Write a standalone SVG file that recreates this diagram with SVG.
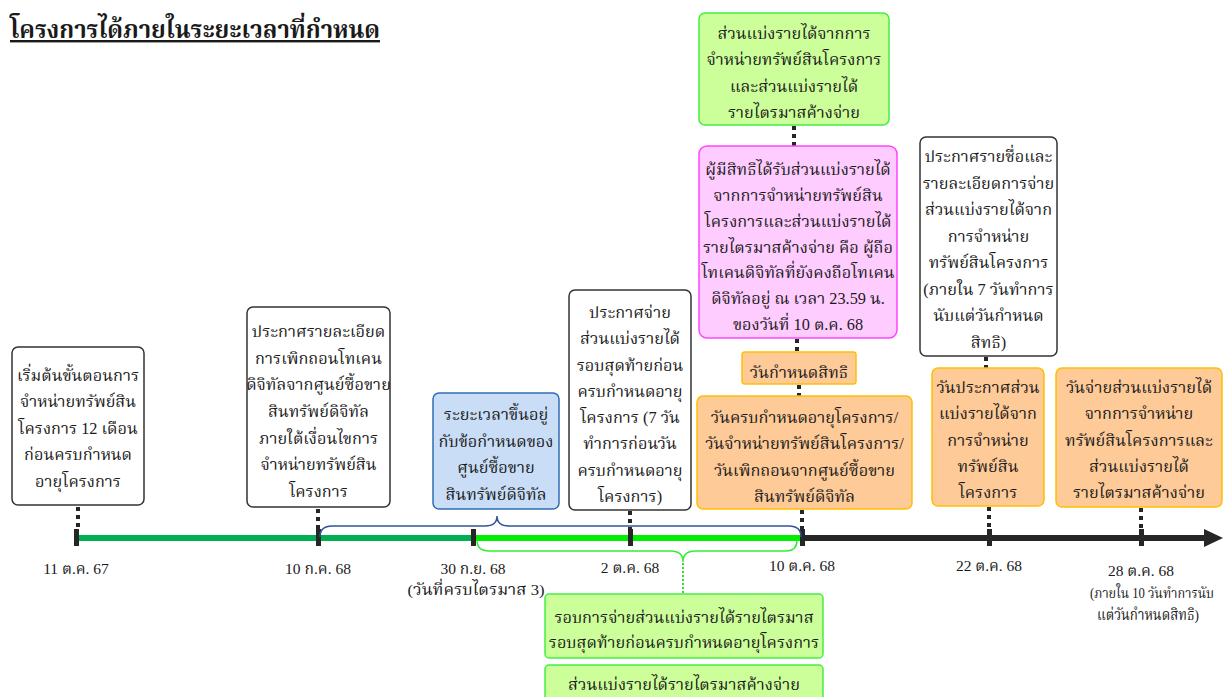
<svg xmlns="http://www.w3.org/2000/svg" width="1226" height="697" viewBox="0 0 1226 697">
<style>
text{font-family:"Liberation Serif","Noto Serif Thai","Noto Sans Thai","DejaVu Serif",serif;font-size:16.3px;fill:#1a1a1a;text-anchor:middle}
.lbl{font-size:15.5px}
.w{fill:#ffffff;stroke:#333333;stroke-width:1.5}
.b{fill:#c9ddf7;stroke:#2e6db4;stroke-width:1.5}
.g{fill:#ccff99;stroke:#44ee44;stroke-width:1.5}
.p{fill:#ffccff;stroke:#ff44ff;stroke-width:1.5}
.o{fill:#fdca98;stroke:#ffc000;stroke-width:1.5}
.dot{stroke:#262626;stroke-width:4;stroke-dasharray:4 4;fill:none}
.tick{fill:#262626}
</style>
<rect width="1226" height="697" fill="#ffffff"/>
<text x="10" y="38" style="font-size:24px;font-weight:bold;text-anchor:start;text-decoration:underline" textLength="370" lengthAdjust="spacingAndGlyphs">โครงการได้ภายในระยะเวลาที่กำหนด</text>

<g id="connectors">
<line x1="76" y1="538" x2="473" y2="538" stroke="#00b050" stroke-width="6"/>
<line x1="473" y1="538" x2="802" y2="538" stroke="#00ee00" stroke-width="6"/>
<line x1="802" y1="538" x2="1206" y2="538" stroke="#262626" stroke-width="6"/>
<polygon points="1204,529 1223,538 1204,547" fill="#262626"/>
<line class="dot" x1="78" y1="507" x2="78" y2="529"/>
<line class="dot" x1="318" y1="509" x2="318" y2="529"/>
<line class="dot" x1="630" y1="511" x2="630" y2="529"/>
<line class="dot" x1="794" y1="126" x2="794" y2="146"/>
<line class="dot" x1="797" y1="339" x2="797" y2="352"/>
<line class="dot" x1="799" y1="385" x2="799" y2="396"/>
<line class="dot" x1="802" y1="510" x2="802" y2="529"/>
<line class="dot" x1="986" y1="357" x2="986" y2="368"/>
<line class="dot" x1="989" y1="507" x2="989" y2="529"/>
<line class="dot" x1="1141" y1="508" x2="1141" y2="529"/>
<rect class="tick" x="74" y="529" width="5" height="17"/>
<rect class="tick" x="316" y="529" width="5" height="17"/>
<rect class="tick" x="471" y="529" width="5" height="17"/>
<rect class="tick" x="628" y="529" width="5" height="17"/>
<rect class="tick" x="800" y="529" width="5" height="17"/>
<rect class="tick" x="987" y="529" width="5" height="17"/>
<rect class="tick" x="1139" y="529" width="5" height="17"/>
<path d="M320,537 Q320,526 332,526 L485,526 Q497,526 497,516 Q497,526 509,526 L789,526 Q801,526 801,537" fill="none" stroke="#2f5597" stroke-width="1.5"/>
<path d="M477,540 Q477,551 489,551 L671,551 Q683,551 683,562 Q683,551 695,551 L786,551 Q797,551 797,540" fill="none" stroke="#33ee33" stroke-width="1.5"/>
<line x1="683" y1="563" x2="683" y2="594" stroke="#33dd33" stroke-width="2" stroke-dasharray="2 2"/>
</g>

<g id="labels">
<text class="lbl" x="76" y="574">11 ต.ค. 67</text>
<text class="lbl" x="318" y="574">10 ก.ค. 68</text>
<text class="lbl" x="473" y="574">30 ก.ย. 68</text>
<text class="lbl" x="476" y="595" textLength="137" lengthAdjust="spacingAndGlyphs">(วันที่ครบไตรมาส 3)</text>
<text class="lbl" x="630" y="573">2 ต.ค. 68</text>
<text class="lbl" x="802" y="571">10 ต.ค. 68</text>
<text class="lbl" x="989" y="571">22 ต.ค. 68</text>
<text class="lbl" x="1141" y="576">28 ต.ค. 68</text>
<text x="1152" y="598" style="font-size:14px" textLength="124" lengthAdjust="spacingAndGlyphs">(ภายใน 10 วันทำการนับ</text>
<text class="lbl" x="1148" y="620" textLength="102" lengthAdjust="spacingAndGlyphs">แต่วันกำหนดสิทธิ)</text>
</g>

<g id="n1">
<rect class="w" x="12" y="347" width="132" height="158" rx="6"/>
<text x="78" y="381">เริ่มต้นขั้นตอนการ</text>
<text x="78" y="407">จำหน่ายทรัพย์สิน</text>
<text x="78" y="434">โครงการ 12 เดือน</text>
<text x="78" y="460">ก่อนครบกำหนด</text>
<text x="78" y="487">อายุโครงการ</text>
</g>

<g id="n2">
<rect class="w" x="247" y="307" width="143" height="200" rx="6"/>
<text x="318.5" y="337">ประกาศรายละเอียด</text>
<text x="318.5" y="364">การเพิกถอนโทเคน</text>
<text x="318.5" y="390">ดิจิทัลจากศูนย์ซื้อขาย</text>
<text x="318.5" y="417">สินทรัพย์ดิจิทัล</text>
<text x="318.5" y="444">ภายใต้เงื่อนไขการ</text>
<text x="318.5" y="470">จำหน่ายทรัพย์สิน</text>
<text x="318.5" y="497">โครงการ</text>
</g>

<g id="n3">
<rect class="b" x="433" y="393" width="126" height="116" rx="6"/>
<text x="496" y="420">ระยะเวลาขึ้นอยู่</text>
<text x="496" y="447">กับข้อกำหนดของ</text>
<text x="496" y="473">ศูนย์ซื้อขาย</text>
<text x="496" y="500">สินทรัพย์ดิจิทัล</text>
</g>

<g id="n4">
<rect class="w" x="569" y="290" width="122" height="220" rx="6"/>
<text x="630" y="318">ประกาศจ่าย</text>
<text x="630" y="344">ส่วนแบ่งรายได้</text>
<text x="630" y="371">รอบสุดท้ายก่อน</text>
<text x="630" y="397">ครบกำหนดอายุ</text>
<text x="630" y="423">โครงการ (7 วัน</text>
<text x="630" y="449">ทำการก่อนวัน</text>
<text x="630" y="476">ครบกำหนดอายุ</text>
<text x="630" y="502">โครงการ)</text>
</g>

<g id="n5">
<rect class="g" x="699" y="13" width="190" height="112" rx="6"/>
<text x="794" y="39">ส่วนแบ่งรายได้จากการ</text>
<text x="794" y="65">จำหน่ายทรัพย์สินโครงการ</text>
<text x="794" y="92">และส่วนแบ่งรายได้</text>
<text x="794" y="118">รายไตรมาสค้างจ่าย</text>
</g>

<g id="n6">
<rect class="p" x="699" y="146" width="198" height="192" rx="8"/>
<text x="798" y="175">ผู้มีสิทธิได้รับส่วนแบ่งรายได้</text>
<text x="798" y="201">จากการจำหน่ายทรัพย์สิน</text>
<text x="798" y="227">โครงการและส่วนแบ่งรายได้</text>
<text x="798" y="253">รายไตรมาสค้างจ่าย คือ ผู้ถือ</text>
<text x="798" y="278">โทเคนดิจิทัลที่ยังคงถือโทเคน</text>
<text x="798" y="304">ดิจิทัลอยู่ ณ เวลา 23.59 น.</text>
<text x="798" y="330">ของวันที่ 10 ต.ค. 68</text>
</g>

<g id="n7">
<rect class="o" x="742" y="352" width="114" height="32" rx="3"/>
<text x="799" y="378">วันกำหนดสิทธิ</text>
</g>

<g id="n8">
<rect class="o" x="697" y="396" width="215" height="113" rx="6"/>
<text x="804.5" y="423">วันครบกำหนดอายุโครงการ/</text>
<text x="804.5" y="449">วันจำหน่ายทรัพย์สินโครงการ/</text>
<text x="804.5" y="476">วันเพิกถอนจากศูนย์ซื้อขาย</text>
<text x="804.5" y="502">สินทรัพย์ดิจิทัล</text>
</g>

<g id="n9">
<rect class="w" x="920" y="137" width="137" height="219" rx="6"/>
<text x="988.5" y="162">ประกาศรายชื่อและ</text>
<text x="988.5" y="189">รายละเอียดการจ่าย</text>
<text x="988.5" y="215">ส่วนแบ่งรายได้จาก</text>
<text x="988.5" y="242">การจำหน่าย</text>
<text x="988.5" y="268">ทรัพย์สินโครงการ</text>
<text x="988.5" y="295">(ภายใน 7 วันทำการ</text>
<text x="988.5" y="321">นับแต่วันกำหนด</text>
<text x="988.5" y="348">สิทธิ)</text>
</g>

<g id="n10">
<rect class="o" x="932" y="368" width="112" height="138" rx="6"/>
<text x="988" y="393">วันประกาศส่วน</text>
<text x="988" y="419">แบ่งรายได้จาก</text>
<text x="988" y="446">การจำหน่าย</text>
<text x="988" y="472">ทรัพย์สิน</text>
<text x="988" y="498">โครงการ</text>
</g>

<g id="n11">
<rect class="o" x="1056" y="368" width="166" height="139" rx="6"/>
<text x="1139" y="393">วันจ่ายส่วนแบ่งรายได้</text>
<text x="1139" y="419">จากการจำหน่าย</text>
<text x="1139" y="446">ทรัพย์สินโครงการและ</text>
<text x="1139" y="472">ส่วนแบ่งรายได้</text>
<text x="1139" y="498">รายไตรมาสค้างจ่าย</text>
</g>

<g id="n12">
<rect class="g" x="545" y="594" width="278" height="64" rx="4"/>
<text x="684" y="623">รอบการจ่ายส่วนแบ่งรายได้รายไตรมาส</text>
<text x="684" y="648">รอบสุดท้ายก่อนครบกำหนดอายุโครงการ</text>
</g>

<g id="n13">
<rect class="g" x="545" y="665" width="278" height="40" rx="4"/>
<text x="684" y="690">ส่วนแบ่งรายได้รายไตรมาสค้างจ่าย</text>
</g>
</svg>
